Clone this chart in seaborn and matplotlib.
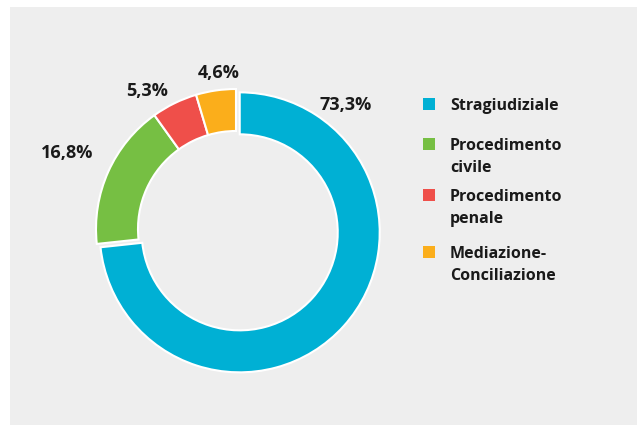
import matplotlib
matplotlib.use("Agg")
import matplotlib.pyplot as plt
import seaborn as sns
from matplotlib.patches import Rectangle

# Data
categories = ["Stragiudiziale", "Procedimento civile", "Procedimento penale", "Mediazione-Conciliazione"]
legend_labels = ["Stragiudiziale", "Procedimento\ncivile", "Procedimento\npenale", "Mediazione-\nConciliazione"]
shares = [73.3, 16.8, 5.3, 4.6]
colors = ["#00b0d4", "#76bf43", "#ef4f4a", "#fbae1b"]

sns.set_theme(style="white")
plt.rcParams["font.family"] = ["Open Sans", "DejaVu Sans"]
palette = sns.color_palette(colors)

W, H = 638, 425
fig = plt.figure(figsize=(W / 100, H / 100), dpi=100, facecolor="white")
ax = fig.add_axes([0, 0, 1, 1])

# grey panel
ax.add_patch(Rectangle((10, 0), 627, H - 7, facecolor="#eeeeee", edgecolor="none", zorder=0))

# donut
cx, cy, r = 236, H - 229, 140
explode = [5, 0, 0, 0]
wedges, _ = ax.pie(
    shares, colors=palette, startangle=90, counterclock=False,
    center=(cx, cy), radius=r, explode=explode,
    wedgeprops=dict(width=42, edgecolor="white", linewidth=1.5),
)

# percentage labels (centre positions in px from top-left)
label_pos = [(346, 103), (67, 151), (147, 89), (219, 71)]
for val, (lx, ly) in zip(shares, label_pos):
    ax.text(lx, H - ly - 6.5, f"{val:.1f}%".replace(".", ","), ha="center", va="baseline",
            fontsize=13, fontweight="bold", color="#1a1a1a")

# legend
leg_rows = [104, 144, 195, 252]
for lab, col, ry in zip(legend_labels, palette, leg_rows):
    ax.add_patch(Rectangle((423, H - ry - 6), 12, 12, facecolor=col, edgecolor="none"))
    for i, line in enumerate(lab.split("\n")):
        ax.text(450, H - (ry + 6 + 22 * i), line, ha="left", va="baseline",
                fontsize=11.5, fontweight="bold", color="#1a1a1a")

ax.set_xlim(0, W)
ax.set_ylim(0, H)
ax.set_aspect("auto")
ax.axis("off")

fig.savefig("out.png", dpi=100, facecolor="white")
